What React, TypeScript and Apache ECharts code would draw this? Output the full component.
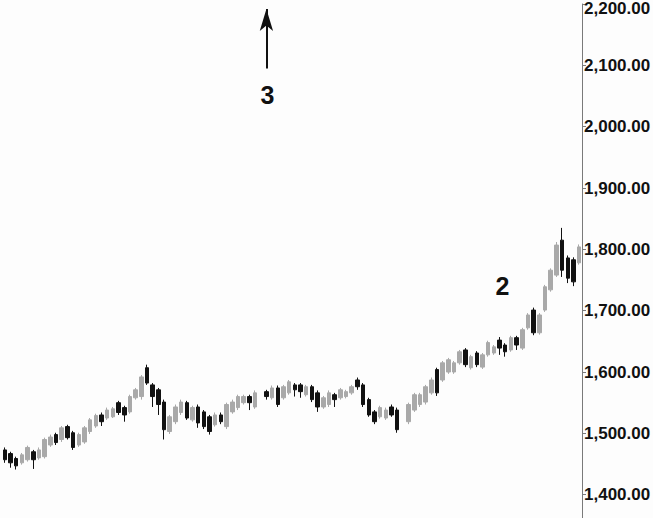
import React, { useEffect, useRef } from "react";
import * as echarts from "echarts";

// OHLC values (null = no trading in that slot)
const opens: (number | null)[] = [
  1473, 1467, 1459, 1452, 1457, 1470, 1460, 1462, 1481, 1498,
  1490, 1511, 1501, 1481, 1486, 1503, 1512, 1530, 1525, 1527,
  1550, 1542, 1535, 1558, 1560, 1607, 1579, 1571, 1551, 1503,
  1519, 1534, 1550, 1522, 1543, 1535, 1527, 1514, 1530, 1511,
  1535, 1542, 1550, 1560, 1543, null, 1568, 1558, 1574, 1558,
  1566, 1579, 1579, 1563, 1576, 1566, 1543, 1547, 1563, 1558,
  1560, 1566, 1587, 1579, 1555, 1535, 1527, 1525, 1543, 1538,
  null, 1519, 1538, 1547, 1551, 1566, 1604, 1587, 1600, 1600,
  1615, 1636, 1607, 1631, 1608, 1628, 1631, 1652, 1644, 1636,
  1656, 1639, 1672, 1701, 1664, 1701, 1734, 1758, 1815, 1786,
  1783, 1778,
];
const closes: (number | null)[] = [
  1457, 1452, 1447, 1465, 1477, 1457, 1473, 1490, 1494, 1485,
  1509, 1493, 1477, 1498, 1509, 1522, 1529, 1519, 1538, 1540,
  1534, 1530, 1560, 1571, 1592, 1582, 1560, 1547, 1506, 1527,
  1543, 1551, 1525, 1542, 1517, 1511, 1503, 1530, 1519, 1547,
  1551, 1560, 1560, 1550, 1566, null, 1560, 1574, 1547, 1576,
  1584, 1571, 1568, 1576, 1555, 1543, 1558, 1566, 1555, 1571,
  1568, 1576, 1576, 1547, 1530, 1519, 1542, 1538, 1530, 1506,
  null, 1547, 1563, 1563, 1576, 1587, 1566, 1615, 1620, 1615,
  1633, 1612, 1625, 1612, 1628, 1648, 1641, 1639, 1633, 1656,
  1644, 1669, 1693, 1664, 1693, 1739, 1766, 1807, 1766, 1753,
  1747, 1804,
];
const lows: (number | null)[] = [
  1452, 1444, 1441, 1449, 1454, 1442, 1457, 1459, 1478, 1481,
  1486, 1490, 1473, 1478, 1483, 1499, 1509, 1512, 1522, 1525,
  1530, 1519, 1532, 1555, 1555, 1579, 1543, 1530, 1490, 1499,
  1515, 1530, 1522, 1519, 1509, 1507, 1498, 1511, 1515, 1507,
  1532, 1538, 1547, 1538, 1540, null, 1555, 1555, 1543, 1555,
  1563, 1560, 1558, 1560, 1551, 1535, 1540, 1543, 1543, 1555,
  1557, 1563, 1571, 1543, 1527, 1515, 1524, 1522, 1527, 1501,
  null, 1515, 1535, 1543, 1547, 1563, 1561, 1584, 1597, 1597,
  1612, 1608, 1604, 1608, 1605, 1625, 1628, 1628, 1625, 1633,
  1636, 1636, 1669, 1660, 1661, 1698, 1731, 1755, 1755, 1745,
  1740, 1775,
];
const highs: (number | null)[] = [
  1477, 1470, 1462, 1468, 1480, 1473, 1477, 1493, 1498, 1501,
  1512, 1514, 1504, 1501, 1512, 1525, 1532, 1534, 1542, 1543,
  1553, 1545, 1563, 1574, 1595, 1612, 1582, 1574, 1555, 1530,
  1547, 1555, 1553, 1545, 1547, 1538, 1530, 1534, 1534, 1550,
  1555, 1563, 1563, 1563, 1570, null, 1571, 1578, 1578, 1579,
  1587, 1582, 1582, 1579, 1579, 1570, 1561, 1570, 1566, 1574,
  1571, 1579, 1591, 1582, 1558, 1538, 1545, 1542, 1547, 1542,
  null, 1550, 1566, 1566, 1579, 1591, 1607, 1618, 1623, 1618,
  1636, 1639, 1628, 1634, 1631, 1651, 1644, 1657, 1647, 1659,
  1659, 1672, 1696, 1705, 1696, 1742, 1769, 1812, 1835, 1790,
  1787, 1808,
];
const priceTicks = [1400, 1500, 1600, 1700, 1800, 1900, 2000, 2100, 2200];
const annotations = [
  { label: "3", index: 46, price: 2052 },
  { label: "2", index: 87, price: 1740 },
];
const arrow = { index: 46, from: 2095, to: 2192 };

export default function App() {
  const ref = useRef<HTMLDivElement>(null);
  useEffect(() => {
    if (!ref.current) return;
    const chart = echarts.init(ref.current, undefined, { renderer: "svg" });
    const categories = opens.map((_, i) => String(i + 1));
    const data = opens.map((o, i) =>
      o === null
        ? ["-", "-", "-", "-"]
        : [o, closes[i], lows[i], highs[i]]
    );
    const topTick = priceTicks[priceTicks.length - 1];
    const labelFont = {
      color: "#111",
      fontWeight: "bold",
      fontSize: 17,
      fontFamily: "'Liberation Sans', Arial, sans-serif",
    };
    chart.setOption({
      animation: false,
      backgroundColor: "#fdfdfd",
      grid: {
        left: 2,
        right: 71,
        top: 4,
        bottom: 0,
        containLabel: false,
        outerBoundsMode: "none",
      },
      xAxis: {
        type: "category",
        data: categories,
        boundaryGap: true,
        show: false,
      },
      yAxis: {
        type: "value",
        position: "right",
        min: 1362,
        max: 2200,
        splitLine: { show: false },
        axisLine: { show: true, lineStyle: { color: "#7a7a7a", width: 1 } },
        axisTick: {
          show: true,
          length: 4,
          lineStyle: { color: "#7a7a7a" },
          customValues: priceTicks,
        },
        axisLabel: {
          customValues: priceTicks,
          ...labelFont,
          margin: 2,
          formatter: (v: number) => {
            const s = v.toLocaleString("en-US", {
              minimumFractionDigits: 2,
              maximumFractionDigits: 2,
            });
            return v === topTick ? "{t|" + s + "}" : s;
          },
          rich: {
            t: { ...labelFont, padding: [9, 0, 0, 0] },
          },
        },
      },
      series: [
        {
          type: "candlestick",
          data,
          barWidth: 4,
          itemStyle: {
            color: "#a9a9a9",
            color0: "#111111",
            borderColor: "#a9a9a9",
            borderColor0: "#111111",
            borderWidth: 1,
          },
          markPoint: {
            symbol: "circle",
            symbolSize: 0,
            label: {
              show: true,
              color: "#111",
              fontSize: 25,
              fontWeight: "bold",
              fontFamily: "'Liberation Sans', Arial, sans-serif",
              formatter: (p: any) => p.name,
            },
            data: annotations.map((a) => ({
              name: a.label,
              coord: [a.index, a.price],
              label: { offset: a.label === "2" ? [3, 0] : [1, 0] },
            })),
          },
          markLine: {
            silent: true,
            symbol: ["none", "arrow"],
            symbolSize: [10, 22],
            label: { show: false },
            lineStyle: { color: "#111", width: 2, type: "solid" },
            data: [
              [
                { coord: [arrow.index, arrow.from] },
                { coord: [arrow.index, arrow.to] },
              ],
            ],
          },
        },
      ],
    });
    return () => chart.dispose();
  }, []);
  return (
    <div
      ref={ref}
      style={{ position: "absolute", left: 0, top: 0, width: 653, height: 518 }}
    />
  );
}
